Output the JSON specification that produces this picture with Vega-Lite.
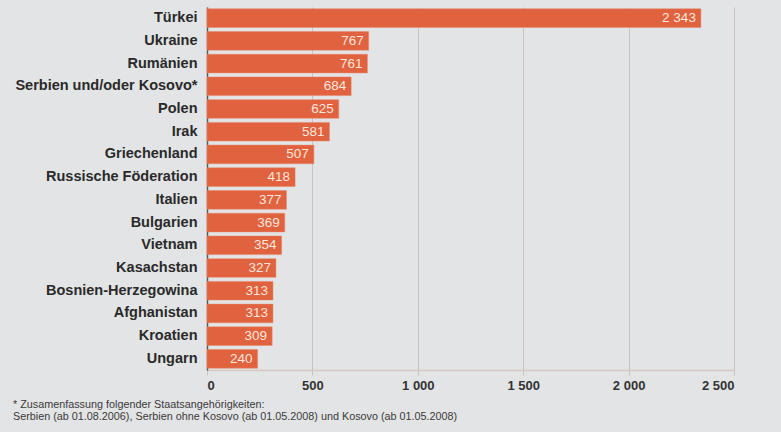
{
  "$schema": "https://vega.github.io/schema/vega-lite/v6.json",
  "autosize": {"type": "none"},
  "width": 527,
  "height": 363,
  "padding": {"left": 207, "top": 7, "right": 47, "bottom": 62},
  "background": "#e3e4e6",
  "config": {
    "locale": {"number": {"decimal": ",", "thousands": " ", "grouping": [3], "currency": ["", " €"]}},
    "view": {"stroke": null},
    "font": "Liberation Sans"
  },
  "title": {
    "text": ["* Zusamenfassung folgender Staatsangehörigkeiten:", "Serbien (ab 01.08.2006), Serbien ohne Kosovo (ab 01.05.2008) und Kosovo (ab 01.05.2008)"],
    "orient": "bottom",
    "anchor": "start",
    "frame": "group",
    "dx": -194,
    "offset": 7,
    "fontSize": 10.8,
    "fontWeight": "normal",
    "color": "#3a3a3a",
    "lineHeight": 12
  },
  "data": {"values": [
    {"land": "Türkei", "wert": 2343},
    {"land": "Ukraine", "wert": 767},
    {"land": "Rumänien", "wert": 761},
    {"land": "Serbien und/oder Kosovo*", "wert": 684},
    {"land": "Polen", "wert": 625},
    {"land": "Irak", "wert": 581},
    {"land": "Griechenland", "wert": 507},
    {"land": "Russische Föderation", "wert": 418},
    {"land": "Italien", "wert": 377},
    {"land": "Bulgarien", "wert": 369},
    {"land": "Vietnam", "wert": 354},
    {"land": "Kasachstan", "wert": 327},
    {"land": "Bosnien-Herzegowina", "wert": 313},
    {"land": "Afghanistan", "wert": 313},
    {"land": "Kroatien", "wert": 309},
    {"land": "Ungarn", "wert": 240}
  ]},
  "encoding": {
    "y": {
      "field": "land", "type": "nominal", "sort": null,
      "scale": {"paddingInner": 0.18, "paddingOuter": 0.08},
      "axis": {
        "title": null, "ticks": false, "labelPadding": 10,
        "labelFontSize": 14.5, "labelFontWeight": "bold", "labelColor": "#2a2a2a",
        "labelLimit": 250,
        "domainColor": "#555555", "domainWidth": 1.5
      }
    },
    "x": {
      "field": "wert", "type": "quantitative",
      "scale": {"domain": [0, 2500], "nice": false},
      "axis": {
        "title": null, "values": [0, 500, 1000, 1500, 2000, 2500], "format": ",d",
        "grid": true, "gridColor": "#c9c2bf", "gridWidth": 1,
        "domainColor": "#d6c8c2", "domainWidth": 1.5,
        "tickColor": "#c9c2bf", "tickSize": 5,
        "labelFontSize": 13, "labelFontWeight": "bold", "labelColor": "#333333",
        "labelPadding": 4
      }
    }
  },
  "layer": [
    {"mark": {"type": "bar", "color": "#e0623e", "stroke": "#e9876a", "strokeWidth": 0.5}},
    {
      "mark": {"type": "text", "align": "right", "dx": -5, "color": "#fbe6dd", "fontSize": 13.5},
      "encoding": {"text": {"field": "wert", "type": "quantitative", "format": ",d"}}
    }
  ]
}
